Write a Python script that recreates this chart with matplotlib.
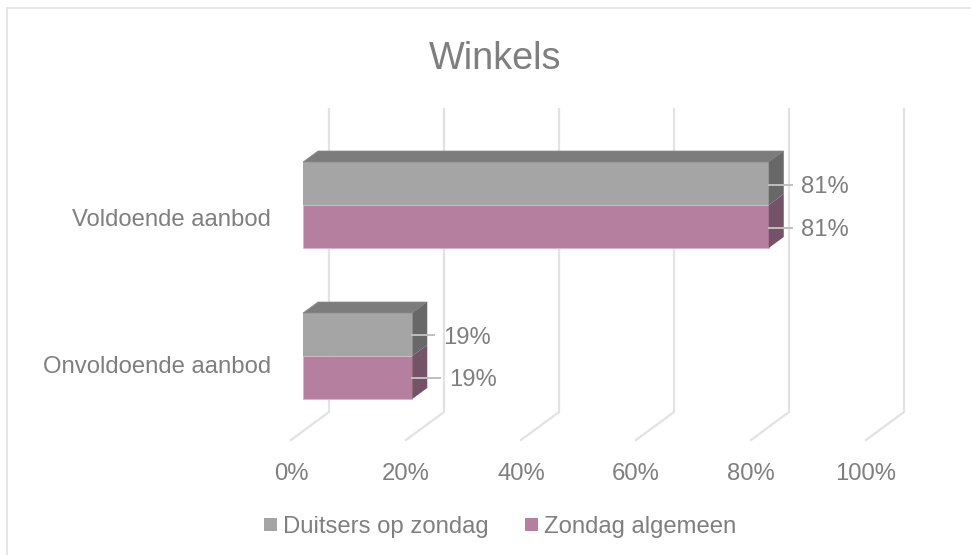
import matplotlib.pyplot as plt
from matplotlib.patches import Polygon, Rectangle

plt.rcParams['font.family'] = ['Liberation Sans', 'DejaVu Sans']

categories = ['Voldoende aanbod', 'Onvoldoende aanbod']
series_names = ['Duitsers op zondag', 'Zondag algemeen']
duitsers = [81, 19]
algemeen = [81, 19]
ticks = [0, 20, 40, 60, 80, 100]
tick_labels = ['0%', '20%', '40%', '60%', '80%', '100%']

GREY = '#a5a5a5'
PINK = '#b57f9f'
TEXT = '#7f7f7f'
GRID = '#e2e2e2'
FS = 17.2

W, H = 971, 555
PX = 5.75      # pixels per percent
X0 = 303       # pixel of 0% on the bar front
DX = 15 / PX   # bar depth
DY = 11

fig = plt.figure(figsize=(W / 100, H / 100), dpi=100)
ax = fig.add_axes([0, 0, 1, 1])
ax.set_xlim(-X0 / PX, (W - X0) / PX)
ax.set_ylim(H, 0)
ax.axis('off')

# frame, only the top and left edges are in the picture
xl = (6.5 - X0) / PX
ax.plot([xl, xl, (W - X0) / PX], [H, 8, 8], color='#e6e6e6', lw=1.4, solid_joinstyle='miter')

# back wall and floor lines
for t in ticks:
    x_back = t + 26 / PX
    x_front = t - 12 / PX
    ax.plot([x_back, x_back, x_front], [109, 412, 440], color=GRID, lw=1.6, solid_joinstyle='miter', zorder=1)

tops = [162, 313]
cat_y = [220, 367]
h = 43
for i, cat in enumerate(categories):
    top = tops[i]
    mid = top + h
    bot = mid + h
    v1, v2 = duitsers[i], algemeen[i]
    ax.barh(top + h / 2, v1, height=h, color=GREY, zorder=3)
    ax.barh(mid + h / 2, v2, height=h, color=PINK, edgecolor='#d5b4c8', lw=0.6, zorder=3)
    ax.add_patch(Polygon([(0, top), (DX, top - DY), (v1 + DX, top - DY), (v1, top)], fc='#7c7c7c', ec='#8c8c8c', lw=0.5, zorder=3))
    ax.add_patch(Polygon([(v1, top), (v1 + DX, top - DY), (v1 + DX, mid - DY), (v1, mid)], fc='#686868', ec='none', zorder=3))
    ax.add_patch(Polygon([(v2, mid), (v2 + DX, mid - DY), (v2 + DX, bot - DY), (v2, bot)], fc='#745268', ec='none', zorder=3))
    ax.text(-32 / PX, cat_y[i], cat, ha='right', va='center', fontsize=FS, color=TEXT)

# data labels with leader lines
leaders = [(23, 32), (23, 32), (22, 31), (28, 37)]
label_vals = [duitsers[0], algemeen[0], duitsers[1], algemeen[1]]
label_y = [184.5, 227.5, 334.5, 377.5]
label_shift = [2.5, 3, 4, 3]
for (ln, off), v, y, s in zip(leaders, label_vals, label_y, label_shift):
    ax.plot([v, v + ln / PX], [y, y], color='#bfbfbf', lw=1.4, zorder=4)
    ax.text(v + off / PX, y + s, f'{v}%', ha='left', va='center', fontsize=FS, color=TEXT, zorder=5)

for t, lab in zip(ticks, tick_labels):
    ax.text(t - 12 / PX, 473.5, lab, ha='center', va='center', fontsize=FS, color=TEXT)

ax.text((495.5 - X0) / PX, 59, 'Winkels', ha='center', va='center', fontsize=27.3, color=TEXT)

# legend
for sq, col, name in zip([264, 525], [GREY, PINK], series_names):
    ax.add_patch(Rectangle(((sq - X0) / PX, 518), 13 / PX, 13, fc=col, ec='none'))
    ax.text((sq + 18.5 - X0) / PX, 527, name, ha='left', va='center', fontsize=FS, color=TEXT)

fig.savefig('out.png', dpi=100)
